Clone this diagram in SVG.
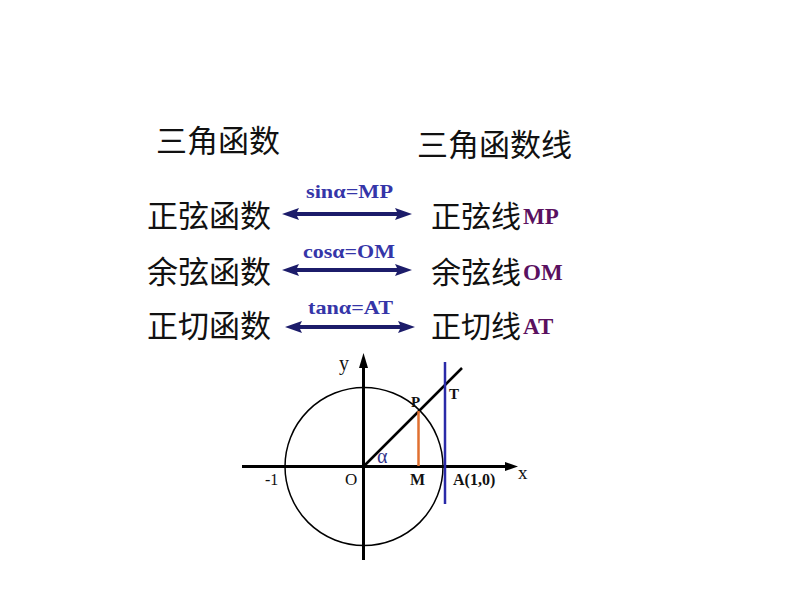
<svg xmlns="http://www.w3.org/2000/svg" width="794" height="596" viewBox="0 0 794 596">
<style>
.cjk{font-family:"Noto Sans CJK SC","Noto Sans CJK JP",sans-serif;font-size:31px;fill:#111}
.r{font-size:30px}
.lbl{font-family:"Liberation Serif",serif;font-weight:bold;font-size:19px;fill:#3535a8}
.pur{font-family:"Liberation Serif",serif;font-weight:bold;font-size:23px;fill:#5a1060}
.ser{font-family:"Liberation Serif",serif;fill:#111}
.b{font-weight:bold}
.arr{fill:#1c1c6a}
.ax{stroke:#000;stroke-width:3;fill:none}
</style>
<defs>
<path id="dbl" class="arr" d="M0,0 L17,-6 L15,-2 L115,-2 L113,-6 L130,0 L113,6 L115,2 L15,2 L17,6 Z"/>
</defs>
<rect width="794" height="596" fill="#fff"/>
<g id="headers">
<text class="cjk" x="156" y="152">三角函数</text>
<text class="cjk" x="417" y="156">三角函数线</text>
</g>
<g id="row-sin">
<text class="cjk" x="147" y="227">正弦函数</text>
<text class="cjk r" x="431" y="227">正弦线</text>
<text class="pur" x="523" y="224">MP</text>
</g>
<g id="row-cos">
<text class="cjk" x="147" y="283">余弦函数</text>
<text class="cjk r" x="431" y="283">余弦线</text>
<text class="pur" x="523" y="280">OM</text>
</g>
<g id="row-tan">
<text class="cjk" x="147" y="337">正切函数</text>
<text class="cjk r" x="431" y="337">正切线</text>
<text class="pur" x="523" y="334">AT</text>
</g>
<g id="connectors">
<use href="#dbl" transform="translate(282,214)"/>
<use href="#dbl" transform="translate(282,270)"/>
<use href="#dbl" transform="translate(285,327)"/>
<text class="lbl" x="306" y="198" textLength="87" lengthAdjust="spacingAndGlyphs">sinα=MP</text>
<text class="lbl" x="303" y="258" textLength="92" lengthAdjust="spacingAndGlyphs">cosα=OM</text>
<text class="lbl" x="308" y="314" textLength="85" lengthAdjust="spacingAndGlyphs">tanα=AT</text>
</g>
<g id="unit-circle">
<circle cx="364" cy="466.5" r="79" fill="none" stroke="#000" stroke-width="1.5"/>
<line class="ax" x1="242" y1="466.5" x2="508" y2="466.5"/>
<polygon points="518,466.5 505,462 505,471" fill="#000"/>
<line class="ax" x1="363.5" y1="560" x2="363.5" y2="364"/>
<polygon points="363.5,353 359,368 368,368" fill="#000"/>
<line x1="363.5" y1="466.5" x2="462" y2="368" stroke="#000" stroke-width="2.5"/>
<line x1="418.5" y1="411" x2="418.5" y2="466" stroke="#e07030" stroke-width="2.5"/>
<line x1="445" y1="362" x2="445" y2="504" stroke="#2a2aa8" stroke-width="2.5"/>
<text class="ser" x="339" y="370" font-size="20">y</text>
<text class="ser b" x="411" y="407" font-size="15">P</text>
<text class="ser b" x="449" y="399" font-size="15">T</text>
<text x="377" y="463" font-family="Liberation Serif,serif" font-size="20" fill="#33338a">α</text>
<text class="ser" x="265" y="485" font-size="16">-1</text>
<text class="ser" x="345" y="485" font-size="17">O</text>
<text class="ser b" x="410" y="485" font-size="16">M</text>
<text class="ser b" x="453" y="485" font-size="16">A(1,0)</text>
<text class="ser" x="518" y="479" font-size="19">x</text>
</g>
</svg>
